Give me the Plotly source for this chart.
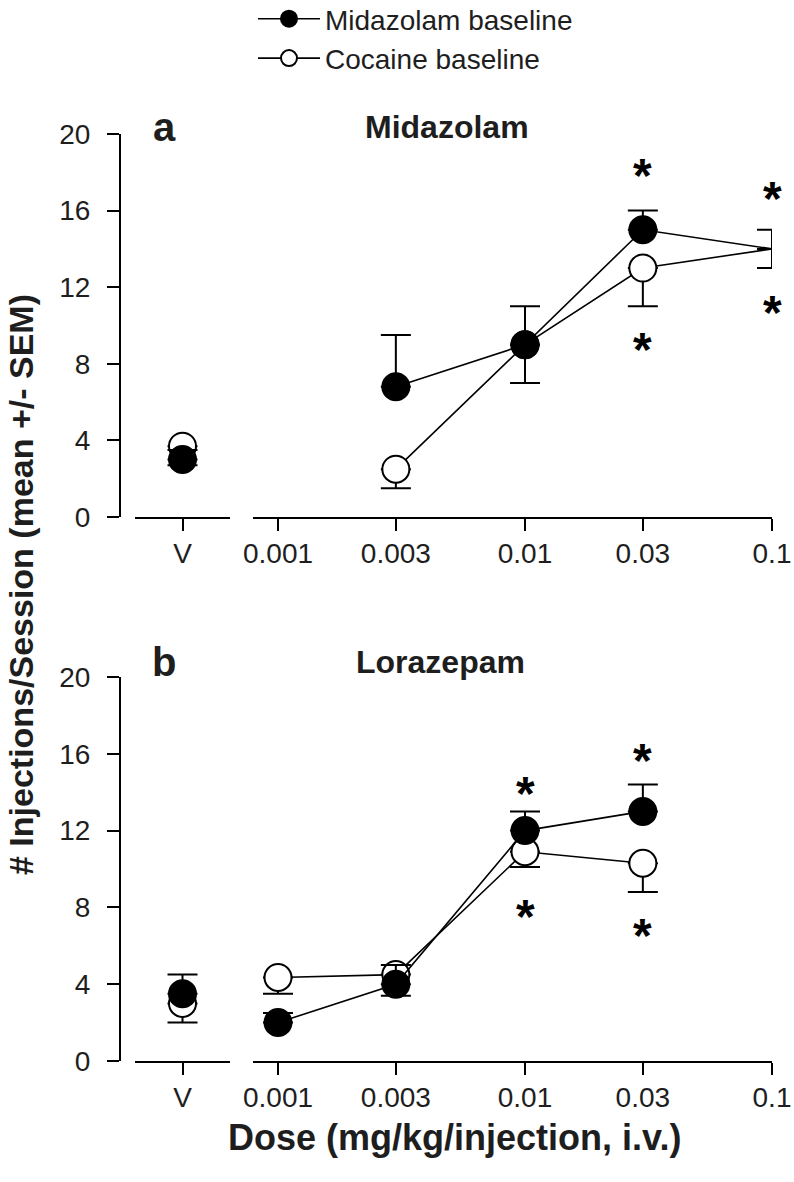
import numpy as np
import plotly.graph_objects as go

W, H = 794, 1182

# ---------------- data ----------------
dose_ticks = [0.001, 0.003, 0.01, 0.03, 0.1]
dose_ticktext = ["0.001", "0.003", "0.01", "0.03", "0.1"]
vehicle_label = ["V"]

# Panel a: Midazolam
a_doses = [0.003, 0.01, 0.03, 0.1]
a_mid_v, a_mid_v_err = [3.0], [0.5]
a_mid = [6.8, 9.0, 15.0, 14.0]
a_mid_err = [2.7, 2.0, 1.0, 1.0]
a_coc_v, a_coc_v_err = [3.7], [1.0]
a_coc = [2.5, 9.0, 13.0, 14.0]
a_coc_err = [1.0, 2.0, 2.0, 1.0]
a_star_x = [0.03, 0.03, 0.1, 0.1]
a_star_y = [18.1, 9.0, 16.9, 10.95]

# Panel b: Lorazepam
b_doses = [0.001, 0.003, 0.01, 0.03]
b_mid_v, b_mid_v_err = [3.5], [1.0]
b_mid = [2.0, 4.0, 12.0, 13.0]
b_mid_err = [0.5, 1.0, 1.0, 1.4]
b_coc_v, b_coc_v_err = [3.0], [1.0]
b_coc = [4.35, 4.5, 10.9, 10.3]
b_coc_err = [0.85, 1.1, 0.8, 1.5]
b_star_x = [0.01, 0.01, 0.03, 0.03]
b_star_y = [14.2, 7.8, 15.9, 6.8]

y_ticks = [0, 4, 8, 12, 16, 20]

# ---------------- style ----------------
FONT = "Arial, Liberation Sans, sans-serif"
TXT = "#1e1e1e"
MSIZE = 27
filled_marker = dict(symbol="circle", size=MSIZE, color="black",
                     line=dict(color="black", width=2))
open_marker = dict(symbol="circle", size=MSIZE, color="white",
                   line=dict(color="black", width=2))
LINE = dict(color="black", width=1.6)


def err_up(vals):
    return dict(type="data", symmetric=False, array=vals,
                arrayminus=[0] * len(vals), color="black", thickness=2, width=15)


def err_down(vals):
    return dict(type="data", symmetric=False, array=[0] * len(vals),
                arrayminus=vals, color="black", thickness=2, width=15)


fig = go.Figure()


def add_panel(xv, xd, ya, doses, mid_v, mid_v_err, mid, mid_err,
              coc_v, coc_v_err, coc, coc_err, show_legend):
    # open (cocaine baseline) first so filled markers lie on top
    fig.add_trace(go.Scatter(x=vehicle_label, y=coc_v, mode="markers",
                             marker=open_marker, error_y=err_down(coc_v_err),
                             xaxis=xv, yaxis=ya, showlegend=False, cliponaxis=False))
    fig.add_trace(go.Scatter(x=doses, y=coc, mode="lines+markers",
                             marker=open_marker, line=LINE, error_y=err_down(coc_err),
                             xaxis=xd, yaxis=ya, name="Cocaine baseline",
                             showlegend=show_legend, legendrank=2, cliponaxis=False))
    fig.add_trace(go.Scatter(x=vehicle_label, y=mid_v, mode="markers",
                             marker=filled_marker, error_y=err_up(mid_v_err),
                             xaxis=xv, yaxis=ya, showlegend=False, cliponaxis=False))
    fig.add_trace(go.Scatter(x=doses, y=mid, mode="lines+markers",
                             marker=filled_marker, line=LINE, error_y=err_up(mid_err),
                             xaxis=xd, yaxis=ya, name="Midazolam baseline",
                             showlegend=show_legend, legendrank=1, cliponaxis=False))


add_panel("x", "x2", "y", a_doses, a_mid_v, a_mid_v_err, a_mid, a_mid_err,
          a_coc_v, a_coc_v_err, a_coc, a_coc_err, True)
add_panel("x3", "x4", "y2", b_doses, b_mid_v, b_mid_v_err, b_mid, b_mid_err,
          b_coc_v, b_coc_v_err, b_coc, b_coc_err, False)


def px(x):
    return x / W


def py(y):
    return 1 - y / H


x_v_dom = [px(135), px(230)]
x_d_dom = [px(253), px(772)]
ya_dom = [py(517), py(134)]
yb_dom = [py(1061), py(677)]

common_x = dict(showline=True, linewidth=2, linecolor="black", ticks="outside",
                ticklen=12, tickwidth=2, tickcolor="black", showgrid=False,
                zeroline=False, tickfont=dict(family=FONT, size=28, color=TXT),
                ticklabelstandoff=-2, automargin=False, ticklabeloverflow="allow")
vrange = [-0.5, 0.5]
drange = [np.log10(dose_ticks[0]) - 25 / 247, np.log10(dose_ticks[-1])]

layout_axes = {}
for (xv, xd, ya) in [("xaxis", "xaxis2", "y"), ("xaxis3", "xaxis4", "y2")]:
    layout_axes[xv] = dict(common_x, domain=x_v_dom, anchor=ya, type="category",
                           range=vrange)
    layout_axes[xd] = dict(common_x, domain=x_d_dom, anchor=ya, type="log",
                           range=drange, tickvals=dose_ticks, ticktext=dose_ticktext)

common_y = dict(showline=True, linewidth=2, linecolor="black", ticks="outside",
                ticklen=12, tickwidth=2, tickcolor="black", showgrid=False,
                zeroline=False, range=[0, 20], tickvals=y_ticks,
                tickfont=dict(family=FONT, size=28, color=TXT),
                anchor="free", position=px(120), ticklabelstandoff=11,
                automargin=False)
layout_axes["yaxis"] = dict(common_y, domain=ya_dom)
layout_axes["yaxis2"] = dict(common_y, domain=yb_dom)

fig.update_layout(**layout_axes)

annotations = []
for xs, ys, xr, yr in [(a_star_x, a_star_y, "x2", "y"), (b_star_x, b_star_y, "x4", "y2")]:
    for sx, sy in zip(xs, ys):
        annotations.append(dict(x=np.log10(sx), y=sy, xref=xr, yref=yr, text="<b>*</b>",
                                showarrow=False, yshift=-5, xanchor="center",
                                yanchor="middle",
                                font=dict(family=FONT, size=48, color="black")))


def paper_text(x, y, text, size, angle=0):
    return dict(x=px(x), y=py(y), xref="paper", yref="paper", text=text,
                showarrow=False, xanchor="center", yanchor="middle", textangle=angle,
                font=dict(family=FONT, size=size, color=TXT))


annotations += [
    paper_text(164, 127, "<b>a</b>", 40),
    paper_text(447, 127, "<b>Midazolam</b>", 32),
    paper_text(164, 662, "<b>b</b>", 40),
    paper_text(440, 662, "<b>Lorazepam</b>", 32),
    paper_text(21, 585, "<b># Injections/Session (mean +/- SEM)</b>", 34, -90),
    paper_text(455, 1137, "<b>Dose (mg/kg/injection, i.v.)</b>", 36),
]

fig.update_layout(
    width=W, height=H,
    margin=dict(l=0, r=0, t=0, b=0, pad=0, autoexpand=False),
    paper_bgcolor="white", plot_bgcolor="white",
    annotations=annotations,
    showlegend=True,
    legend=dict(x=px(253), y=1 + 6 / H, xanchor="left", yanchor="top",
                font=dict(family=FONT, size=28, color=TXT),
                bgcolor="rgba(0,0,0,0)", itemwidth=62, tracegroupgap=0,
                traceorder="normal"),
)

fig.write_html("out.html", config={"displayModeBar": False},
               post_script="document.body.style.margin='0px';")
